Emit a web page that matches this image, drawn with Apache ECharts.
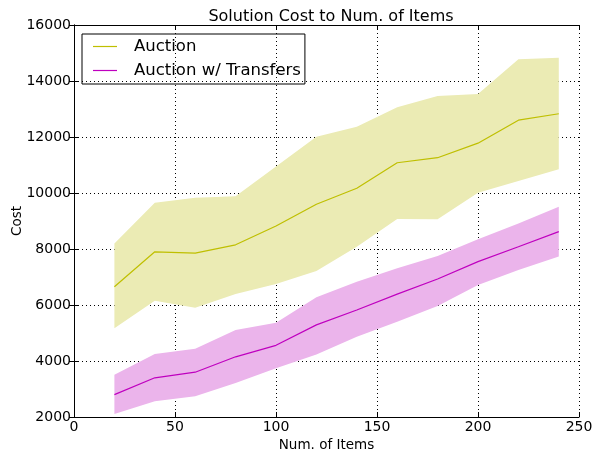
<!DOCTYPE html>
<html>
<head>
<meta charset="utf-8">
<script src="https://cdn.jsdelivr.net/npm/echarts@6/dist/echarts.min.js"></script>
<style>
  html, body { margin: 0; padding: 0; background: #fff; }
  #chart { width: 603px; height: 449px; }
</style>
</head>
<body>
<div id="chart"></div>
<script>
// data
const items = [20, 40, 60, 80, 100, 120, 140, 160, 180, 200, 220, 240];
const auctionMean = [6650, 7900, 7850, 8150, 8820, 9600, 10170, 11080, 11260, 11780, 12600, 12830];
const auctionUpper = [8200, 9650, 9830, 9880, 10950, 12010, 12370, 13060, 13460, 13540, 14780, 14830];
const auctionLower = [5170, 6150, 5900, 6390, 6750, 7210, 8080, 9070, 9060, 10010, 10430, 10850];
const transMean = [2800, 3400, 3600, 4150, 4560, 5290, 5820, 6390, 6930, 7550, 8080, 8620];
const transUpper = [3510, 4250, 4440, 5110, 5370, 6280, 6830, 7310, 7750, 8350, 8910, 9510];
const transLower = [2110, 2560, 2740, 3210, 3740, 4230, 4870, 5400, 5960, 6710, 7250, 7730];

const font = "DejaVu Sans";

function pairs(xs, ys) {
  return xs.map((x, i) => [x, ys[i]]);
}

const chart = echarts.init(document.getElementById("chart"));

const tickStyle = { inside: true, length: 5, lineStyle: { color: "#000" } };
const gridLine = { show: true, lineStyle: { color: "#000", type: [1, 3], width: 1 } };

// shaded band between lower and upper edge, one polygon through the axes
function bandSeries(name, lo, hi, fill) {
  const rows = items.map((x, i) => [x, lo[i], hi[i]]);
  return {
    name: name,
    type: "custom",
    silent: true,
    z: 1,
    data: rows,
    encode: { x: 0, y: [1, 2] },
    renderItem: function (params, api) {
      if (params.dataIndex !== 0) return null;
      const top = rows.map((r) => api.coord([r[0], r[2]]));
      const bottom = rows.map((r) => api.coord([r[0], r[1]])).reverse();
      return {
        type: "polygon",
        shape: { points: top.concat(bottom) },
        style: { fill: fill, stroke: null },
      };
    },
  };
}

const option = {
  animation: false,
  textStyle: { fontFamily: font },
  title: {
    text: "Solution Cost to Num. of Items",
    left: 326,
    textAlign: "center",
    top: 4,
    textStyle: { fontFamily: font, fontSize: 16, fontWeight: "normal", color: "#000" },
  },
  legend: {
    data: ["Auction", "Auction w/ Transfers"],
    orient: "vertical",
    left: 82,
    top: 34,
    borderColor: "#000",
    borderWidth: 1,
    borderRadius: 0,
    padding: [4, 4, 5, 11],
    itemGap: 7,
    icon: "rect",
    itemWidth: 24,
    itemHeight: 1.2,
    formatter: "{t|{name}}",
    textStyle: {
      fontFamily: font,
      fontSize: 16.5,
      color: "#000",
      rich: { t: { fontFamily: font, fontSize: 16.5, color: "#000", padding: [0, 0, 0, 12] } },
    },
  },
  grid: { left: 74, right: 24, top: 25, bottom: 32, containLabel: false, outerBoundsMode: "none" },
  xAxis: [
    {
      type: "value",
      min: 0,
      max: 250,
      interval: 50,
      name: "Num. of Items",
      nameLocation: "middle",
      nameGap: 15,
      nameTextStyle: { fontFamily: font, fontSize: 13.5, color: "#000" },
      axisLine: { lineStyle: { color: "#000" } },
      axisTick: tickStyle,
      axisLabel: { fontFamily: font, fontSize: 14, color: "#000", margin: 3 },
      splitLine: gridLine,
    },
    {
      type: "value",
      position: "top",
      min: 0,
      max: 250,
      interval: 50,
      axisLine: { show: true, lineStyle: { color: "#000" } },
      axisTick: tickStyle,
      axisLabel: { show: false },
      splitLine: { show: false },
    },
  ],
  yAxis: [
    {
      type: "value",
      min: 2000,
      max: 16000,
      interval: 2000,
      name: "Cost",
      nameLocation: "middle",
      nameGap: 50,
      nameMoveOverlap: false,
      nameRotate: 90,
      nameTextStyle: { fontFamily: font, fontSize: 13.5, color: "#000" },
      axisLine: { show: true, lineStyle: { color: "#000" } },
      axisTick: { show: true, ...tickStyle },
      axisLabel: {
        fontFamily: font,
        fontSize: 14,
        color: "#000",
        margin: 3,
        formatter: (v) => String(v),
      },
      splitLine: gridLine,
    },
    {
      type: "value",
      position: "right",
      min: 2000,
      max: 16000,
      interval: 2000,
      axisLine: { show: true, lineStyle: { color: "#000" } },
      axisTick: { show: true, ...tickStyle },
      axisLabel: { show: false },
      splitLine: { show: false },
    },
  ],
  series: [
    bandSeries("auctionBand", auctionLower, auctionUpper, "#ebebb4"),
    bandSeries("transBand", transLower, transUpper, "#ebb4eb"),
    {
      name: "Auction",
      type: "line",
      data: pairs(items, auctionMean),
      symbol: "none",
      color: "#bfbf00",
      lineStyle: { color: "#bfbf00", width: 1.2 },
      z: 3,
    },
    {
      name: "Auction w/ Transfers",
      type: "line",
      data: pairs(items, transMean),
      symbol: "none",
      color: "#bf00bf",
      lineStyle: { color: "#bf00bf", width: 1.2 },
      z: 3,
    },
  ],
};

chart.setOption(option);
</script>
</body>
</html>
